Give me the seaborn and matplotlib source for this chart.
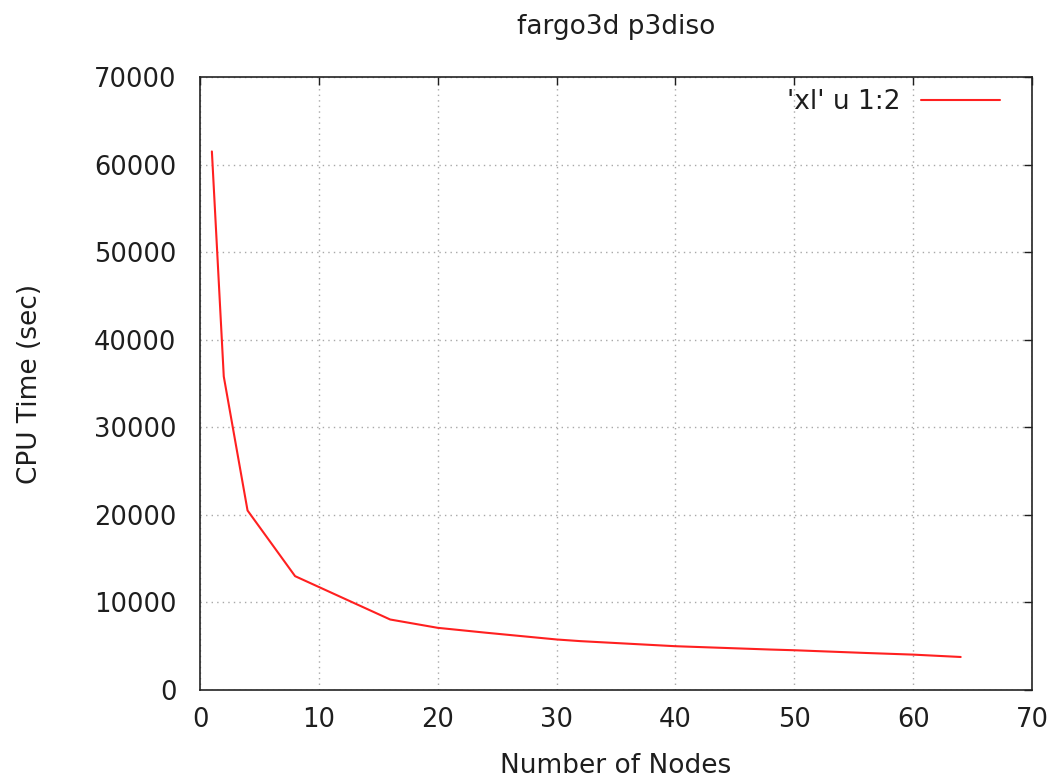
import matplotlib
matplotlib.use('Agg')
import matplotlib.pyplot as plt
import seaborn as sns
import pandas as pd

# node counts and cpu time
nodes = [1, 2, 4, 8, 16, 20, 24, 30, 32, 40, 48, 50, 56, 60, 64]
cpu_time = [61500, 35800, 20500, 13000, 8050, 7100, 6550, 5770, 5580,
            5000, 4620, 4540, 4230, 4040, 3770]

df = pd.DataFrame({'nodes': nodes, 'cpu': cpu_time})

sns.set_style('white')
plt.rcParams['font.family'] = ['DejaVu Sans']
txt = '#1e1e1e'

fig = plt.figure(figsize=(10.59, 7.79), dpi=100)
ax = fig.add_axes([200 / 1059, 1 - 690 / 779, 832 / 1059, 613 / 779])

sns.lineplot(data=df, x='nodes', y='cpu', ax=ax, color='#ff2020',
             linewidth=1.5, label="'xl' u 1:2")

ax.set_xlim(0, 70)
ax.set_ylim(0, 70000)
ax.set_xticks(range(0, 71, 10))
ax.set_yticks(range(0, 70001, 10000))
ax.grid(True, color='#a8a8a8', linestyle=(0, (1, 3)), linewidth=1.0)
ax.tick_params(direction='in', length=6, width=1, top=True, right=True,
               labelsize=18.5, colors=txt)
ax.tick_params(axis='x', pad=12)
ax.tick_params(axis='y', pad=17)
for s in ax.spines.values():
    s.set_color('#222222')
    s.set_linewidth(1.2)

ax.set_xlabel('Number of Nodes', fontsize=19, color=txt)
ax.set_ylabel('CPU Time (sec)', fontsize=19, color=txt)
ax.xaxis.set_label_coords(0.5, -0.124)
ax.yaxis.set_label_coords(-0.204, 0.5)
ax.xaxis.label.set_va('center')
ax.yaxis.label.set_va('center')
ax.set_title('fargo3d p3diso', fontsize=19, color=txt, y=1.07, pad=0)

leg = ax.legend(loc='upper right', bbox_to_anchor=(0.981, 1.0065),
                frameon=False, markerfirst=False, fontsize=19,
                handlelength=3.0, borderaxespad=0.2, handletextpad=0.8,
                labelcolor=txt)

fig.savefig('out.png', dpi=100)
